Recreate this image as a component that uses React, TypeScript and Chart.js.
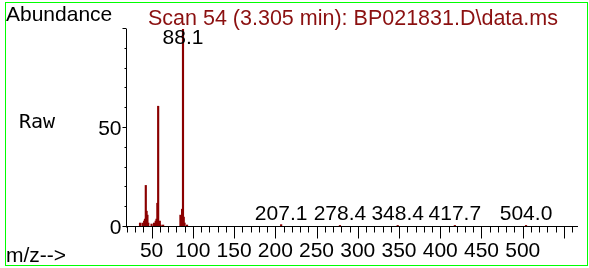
import { useEffect, useRef } from "react";
import { Chart, registerables } from "chart.js";

Chart.register(...registerables);

// ---- data ----
const mzValues = [36, 39, 41, 42, 43, 44, 45, 46, 50, 53, 55, 56, 57, 58, 60, 61, 64, 85, 86, 87, 88.1, 89, 90, 93, 207.1, 278.4, 348.4, 417.7, 504.0];
const abundances = [2, 2, 3, 4, 21, 8, 6, 2, 1.5, 2, 3, 4, 12, 61, 3, 1, 1, 6, 3, 9, 100, 5, 2, 1, 1.2, 0.8, 0.8, 0.8, 0.8];
const labeledPeaks = [88.1, 207.1, 278.4, 348.4, 417.7, 504.0];
const xTickLabels = [50, 100, 150, 200, 250, 300, 350, 400, 450, 500];
const yTickLabels = [0, 50];
const titleText = "Scan 54 (3.305 min): BP021831.D\\data.ms";
const yAxisTitle = "Abundance";
const xAxisTitle = "m/z-->";
const rawText = "Raw";

const FONT = '"Liberation Sans", Arial, sans-serif';

const msPlugin = {
  id: "msAxes",
  afterDraw(chart: any) {
    const ctx = chart.ctx as CanvasRenderingContext2D;
    const xs = chart.scales.x;
    const ys = chart.scales.y;
    const area = chart.chartArea;
    ctx.save();

    // frame
    ctx.strokeStyle = "#00ff00";
    ctx.lineWidth = 1;
    ctx.strokeRect(5.5, 2.5, 582, 263);

    // axes lines
    ctx.strokeStyle = "#000";
    ctx.beginPath();
    const x0 = Math.round(area.left) + 0.5;
    const yb = Math.round(ys.getPixelForValue(0)) - 0.5;
    ctx.moveTo(x0, Math.round(area.top));
    ctx.lineTo(x0, yb + 1);
    ctx.moveTo(area.left, yb);
    ctx.lineTo(area.right, yb);

    // x ticks
    for (let v = Math.ceil(xs.min / 10) * 10; v <= xs.max; v += 10) {
      const px = Math.round(xs.getPixelForValue(v)) + 0.5;
      const len = v % 50 === 0 ? 12 : 6;
      ctx.moveTo(px, yb);
      ctx.lineTo(px, yb + len);
    }
    // y ticks
    for (let v = 0; v <= ys.max; v += 10) {
      const py = Math.round(ys.getPixelForValue(v)) - 0.5;
      const len = v % 50 === 0 ? 4 : 2;
      ctx.moveTo(x0, py);
      ctx.lineTo(x0 - len, py);
    }
    ctx.stroke();

    // tick labels
    ctx.fillStyle = "#000";
    ctx.font = `21px ${FONT}`;
    ctx.textAlign = "center";
    ctx.textBaseline = "alphabetic";
    for (const v of xTickLabels) {
      ctx.fillText(String(v), xs.getPixelForValue(v), 257);
    }
    ctx.textAlign = "right";
    ctx.textBaseline = "middle";
    for (const v of yTickLabels) {
      ctx.fillText(String(v), x0 - 5, ys.getPixelForValue(v) + 1);
    }

    // peak labels
    ctx.textAlign = "center";
    ctx.textBaseline = "alphabetic";
    for (const mz of labeledPeaks) {
      const i = mzValues.indexOf(mz);
      const top = ys.getPixelForValue(abundances[i]);
      const y = Math.max(top - 5, 44);
      ctx.fillText(mz.toFixed(1), xs.getPixelForValue(mz), y);
    }

    // titles
    ctx.textAlign = "left";
    ctx.fillText(yAxisTitle, 6, 21);
    ctx.fillText(xAxisTitle, 6, 262);
    ctx.fillStyle = "#8b1010";
    ctx.font = `21.5px ${FONT}`;
    ctx.fillText(titleText, 148, 25);
    ctx.fillStyle = "#000";
    ctx.font = '20px "DejaVu Sans Mono", monospace';
    ctx.fillText(rawText, 19, 128);

    ctx.restore();
  },
};

export default function App() {
  const ref = useRef<HTMLCanvasElement | null>(null);
  useEffect(() => {
    document.body.style.margin = "0";
    const canvas = ref.current!;
    const chart = new Chart(canvas, {
      type: "bar",
      data: {
        datasets: [
          {
            data: mzValues.map((x, i) => ({ x, y: abundances[i] })),
            backgroundColor: "#8b0000",
            borderWidth: 0,
            barThickness: 1.5,
            grouped: false,
          } as any,
        ],
      },
      options: {
        responsive: false,
        animation: false,
        devicePixelRatio: 1,
        layout: { padding: { left: 126, right: 11, top: 29, bottom: 41 } },
        plugins: { legend: { display: false }, tooltip: { enabled: false } },
        scales: {
          x: { type: "linear", min: 19, max: 567, offset: false, display: false },
          y: { min: 0, max: 100, display: false },
        },
      },
      plugins: [msPlugin],
    });
    return () => chart.destroy();
  }, []);
  return (
    <div style={{ position: "fixed", left: 0, top: 0, width: 589, height: 268, background: "#fff" }}>
      <canvas ref={ref} width={589} height={268} style={{ width: 589, height: 268 }} />
    </div>
  );
}
